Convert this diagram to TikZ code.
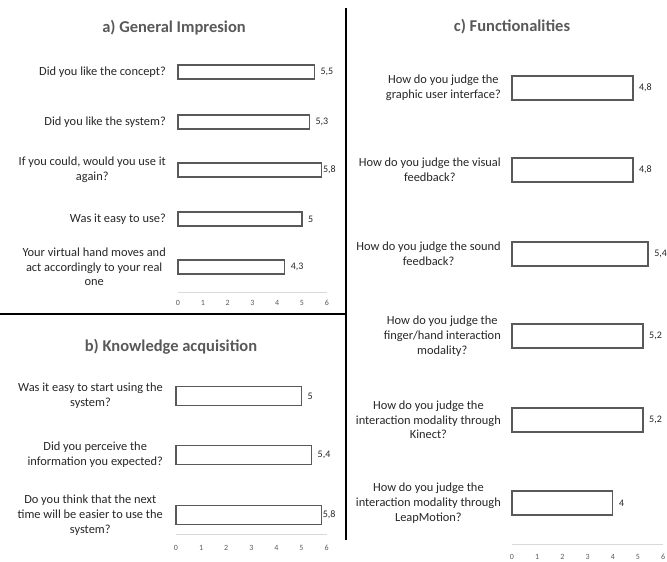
\documentclass[tikz,border=0pt]{standalone}
\usepackage{fontspec}
\setmainfont{Carlito}
\usetikzlibrary{positioning}
\definecolor{axisgrey}{HTML}{D9D9D9}
\definecolor{barline}{HTML}{595959}
\definecolor{titlegrey}{HTML}{595959}
\definecolor{qtext}{HTML}{262626}
\tikzset{
  bar/.style={draw=barline, line width=1.3pt, fill=white, inner sep=0pt,
              outer sep=0pt, anchor=west},
  qlabel/.style={anchor=east, align=center, text=qtext, inner sep=0pt,
                 font=\fontsize{12.4}{14.7}\selectfont},
  vlabel/.style={anchor=west, inner sep=0pt, text=qtext,
                 font=\fontsize{10}{11}\selectfont},
  ticklbl/.style={inner sep=0pt, text=titlegrey, font=\fontsize{8}{9}\selectfont},
  axisline/.style={draw=axisgrey, line width=0.9pt},
  paneltitle/.style={font=\fontsize{16.5}{18}\selectfont\bfseries, text=titlegrey},
  divider/.style={draw=black, line width=1.3pt},
}

\begin{document}
\begin{tikzpicture}[x=1pt, y=-1pt]
\useasboundingbox (0,0) rectangle (667,562);

% ========================= PANEL (a) =====================================
\node[paneltitle] (atitle) at (174,28) {a) General Impresion};
\foreach \v/\vl/\y/\g/\q [count=\i] in {
    5.5/{5,5}/72/6/{Did you like the concept?},
    5.3/{5,3}/122/6/{Did you like the system?},
    5.8/{5,8}/170/1/{If you could, would you use it\\again?},
    5.0/{5}/219/6/{Was it easy to use?},
    4.3/{4,3}/267/6/{Your virtual hand moves and\\act accordingly to your real\\one}}{
  \node[bar, minimum width=\v*24.8pt, minimum height=14pt] (abar\i) at (178,\y) {};
  \node[qlabel] (aq\i) at (166,\y) {\q};
  \node[vlabel, right=\g pt of abar\i] (av\i) {\vl};
}
\coordinate (aaxl) at (178,292);
\coordinate (aaxr) at (327,292);
\draw[axisline] (aaxl) -- (aaxr);
\foreach \t in {0,...,6}
  \node[ticklbl] (at\t) at (178+\t*24.8, 303) {\t};

% ========================= PANEL (b) =====================================
\node[paneltitle] (btitle) at (171,347) {b) Knowledge acquisition};
\foreach \v/\vl/\y/\g/\q [count=\i] in {
    5.0/{5}/396/6/{Was it easy to start using the\\system?},
    5.4/{5,4}/455/6/{Did you perceive the\\information you expected?},
    5.8/{5,8}/515/1/{Do you think that the next\\time will be easier to use the\\system?}}{
  \node[bar, minimum width=\v*25.1pt, minimum height=19pt] (bbar\i) at (176,\y) {};
  \node[qlabel] (bq\i) at (163,\y) {\q};
  \node[vlabel, right=\g pt of bbar\i] (bv\i) {\vl};
}
\coordinate (baxl) at (176,534);
\coordinate (baxr) at (327,534);
\draw[axisline] (baxl) -- (baxr);
\foreach \t in {0,...,6}
  \node[ticklbl] (bt\t) at (176+\t*25.1, 548) {\t};

% ========================= PANEL (c) =====================================
\node[paneltitle] (ctitle) at (512,27) {c) Functionalities};
\foreach \v/\vl/\y/\g/\q [count=\i] in {
    4.8/{4,8}/88/6/{How do you judge the\\graphic user interface?},
    4.8/{4,8}/170/6/{How do you judge the visual\\feedback?},
    5.4/{5,4}/254/6/{How do you judge the sound\\feedback?},
    5.2/{5,2}/336/6/{How do you judge the\\finger/hand interaction\\modality?},
    5.2/{5,2}/420/6/{How do you judge the\\interaction modality through\\Kinect?},
    4.0/{4}/503/6/{How do you judge the\\interaction modality through\\LeapMotion?}}{
  \node[bar, minimum width=\v*25.2pt, minimum height=24pt] (cbar\i) at (512,\y) {};
  \node[qlabel] (cq\i) at (501,\y) {\q};
  \node[vlabel, right=\g pt of cbar\i] (cv\i) {\vl};
}
\coordinate (caxl) at (512,544);
\coordinate (caxr) at (663,544);
\draw[axisline] (caxl) -- (caxr);
\foreach \t in {0,...,6}
  \node[ticklbl] (ct\t) at (512+\t*25.2, 557) {\t};

% ========================= dividers ======================================
\coordinate (vtop) at (346,8);
\coordinate (vbot) at (346,540);
\coordinate (hleft) at (0,314);
\coordinate (hright) at (346,314);
\draw[divider] (vtop) -- (vbot);
\draw[divider] (hleft) -- (hright);
\end{tikzpicture}
\end{document}
